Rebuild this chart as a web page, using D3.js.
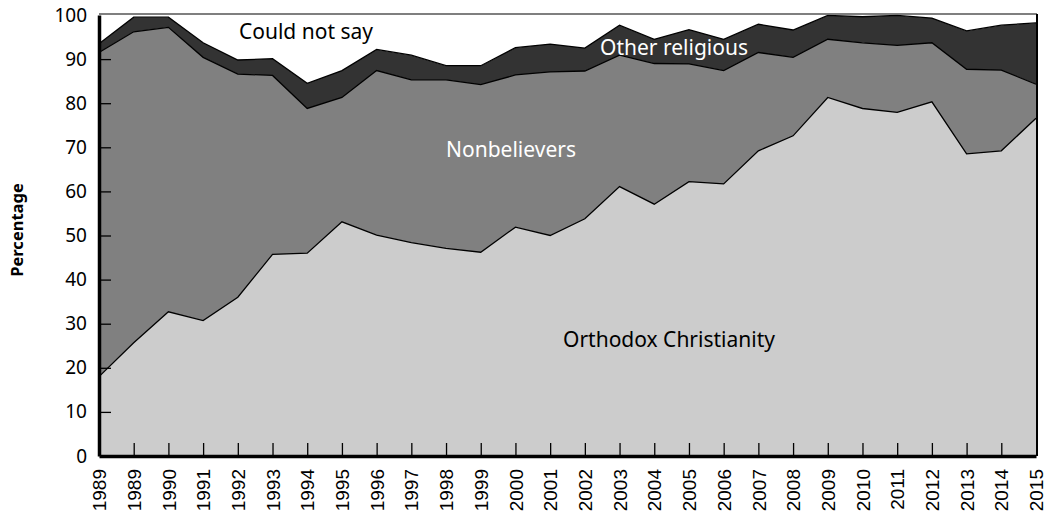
<!DOCTYPE html>
<html>
<head>
  <meta charset="utf-8">
  <script src="https://d3js.org/d3.v7.min.js"></script>
  <style>
    body { margin: 0; background: #fff; }
  </style>
</head>
<body>
  <svg id="chart" width="1048" height="515"></svg>
  <script>
    // x labels (1989 appears twice in the source chart)
    const years = ['1989','1989','1990','1991','1992','1993','1994','1995','1996','1997','1998','1999','2000',
      '2001','2002','2003','2004','2005','2006','2007','2008','2009','2010','2011','2012','2013','2014','2015'];

    const orthodox = [18.0,25.7,32.7,30.7,36.0,45.7,46.0,53.1,50.1,48.4,47.1,46.2,51.9,50.0,
      53.8,61.1,57.1,62.2,61.7,69.2,72.6,81.3,78.8,77.9,80.3,68.5,69.2,76.6];
    const nonbelievers = [73.5,70.5,64.5,59.7,50.6,40.6,32.8,28.2,37.3,36.9,38.2,38.0,34.5,37.1,
      33.5,29.8,31.9,26.7,25.7,22.3,17.8,13.2,14.9,15.2,13.4,19.2,18.3,7.7];
    const otherReligious = [2.0,3.3,2.3,3.3,3.2,3.8,5.7,6.1,4.8,5.6,3.2,4.3,6.2,6.3,
      5.2,6.8,5.5,7.8,7.1,6.4,6.2,5.4,5.9,6.8,5.6,8.7,10.2,13.9];
    const yTicks = [0,10,20,30,40,50,60,70,80,90,100];

    const seriesKeys = ['orthodox', 'nonbelievers', 'other', 'unsure'];
    const colors = { orthodox: '#cccccc', nonbelievers: '#808080', other: '#333333', unsure: '#ffffff' };

    const rows = years.map((y, i) => ({
      i: i,
      orthodox: orthodox[i],
      nonbelievers: nonbelievers[i],
      other: otherReligious[i],
      unsure: Math.max(0, 100 - orthodox[i] - nonbelievers[i] - otherReligious[i])
    }));

    const plotLeft = 99, plotRight = 1036, plotTop = 15, plotBottom = 456;
    const svg = d3.select('#chart');

    const x = d3.scalePoint().domain(d3.range(years.length)).range([plotLeft, plotRight]);
    const y = d3.scaleLinear().domain([0, 100]).range([plotBottom, plotTop]);

    const stacked = d3.stack().keys(seriesKeys)(rows);

    const area = d3.area()
      .x(d => x(d.data.i))
      .y0(d => y(d[0]))
      .y1(d => y(Math.min(100, d[1])));

    svg.append('g').selectAll('path')
      .data(stacked)
      .join('path')
      .attr('d', area)
      .attr('fill', d => colors[d.key]);

    // black outline on top of each filled band except the white one
    const line = d3.line()
      .x(d => x(d.data.i))
      .y(d => y(d[1]));

    svg.append('g').selectAll('path')
      .data(stacked.slice(0, 3))
      .join('path')
      .attr('d', line)
      .attr('fill', 'none')
      .attr('stroke', '#000')
      .attr('stroke-width', 1.3);

    // frame: grey top, black right
    svg.append('line')
      .attr('x1', plotLeft).attr('x2', plotRight + 1)
      .attr('y1', plotTop - 1).attr('y2', plotTop - 1)
      .attr('stroke', '#555').attr('stroke-width', 1.5);
    svg.append('line')
      .attr('x1', plotRight + 1).attr('x2', plotRight + 1)
      .attr('y1', plotTop - 1).attr('y2', plotBottom)
      .attr('stroke', '#000').attr('stroke-width', 2);

    // y axis
    const yAxis = svg.append('g')
      .attr('transform', `translate(${plotLeft},0)`)
      .call(d3.axisLeft(y).tickValues(yTicks).tickSizeInner(-12).tickSizeOuter(0).tickPadding(12));
    yAxis.select('.domain').attr('stroke-width', 3.5);
    yAxis.selectAll('.tick line').attr('stroke-width', 1.3);
    yAxis.selectAll('text')
      .attr('font-family', '"Noto Sans", sans-serif')
      .attr('font-size', 19)
      .attr('fill', '#000');
    yAxis.selectAll('.tick').filter(d => d === 0 || d === 100).select('line').remove();

    // x axis
    const xAxis = svg.append('g')
      .attr('transform', `translate(0,${plotBottom})`)
      .call(d3.axisBottom(x).tickFormat(i => years[i]).tickSizeInner(-13).tickSizeOuter(0));
    xAxis.select('.domain').attr('stroke-width', 3.5);
    xAxis.selectAll('.tick line').attr('stroke-width', 1.3);
    xAxis.selectAll('.tick').filter(i => i === 0 || i === years.length - 1).select('line').remove();
    xAxis.selectAll('text')
      .attr('font-family', '"Liberation Sans", Arial, sans-serif')
      .attr('font-size', 19)
      .attr('fill', '#000')
      .attr('transform', 'rotate(-90)')
      .attr('text-anchor', 'end')
      .attr('x', -13)
      .attr('y', 0)
      .attr('dy', '0.35em');

    // y axis title
    svg.append('text')
      .attr('transform', 'translate(23,230) rotate(-90)')
      .attr('text-anchor', 'middle')
      .attr('font-family', '"Noto Sans", sans-serif')
      .attr('font-weight', 'bold')
      .attr('font-size', 16.5)
      .text('Percentage');

    // band labels (y = baseline)
    const labels = [
      { text: 'Could not say', cx: 306, by: 39, fill: '#000' },
      { text: 'Other religious', cx: 674, by: 55, fill: '#fff' },
      { text: 'Nonbelievers', cx: 511, by: 157, fill: '#fff' },
      { text: 'Orthodox Christianity', cx: 669, by: 347, fill: '#000' }
    ];
    svg.append('g').selectAll('text')
      .data(labels)
      .join('text')
      .attr('x', d => d.cx)
      .attr('y', d => d.by)
      .attr('text-anchor', 'middle')
      .attr('font-family', '"Noto Sans", sans-serif')
      .attr('font-size', 21)
      .attr('fill', d => d.fill)
      .text(d => d.text);
  </script>
</body>
</html>
